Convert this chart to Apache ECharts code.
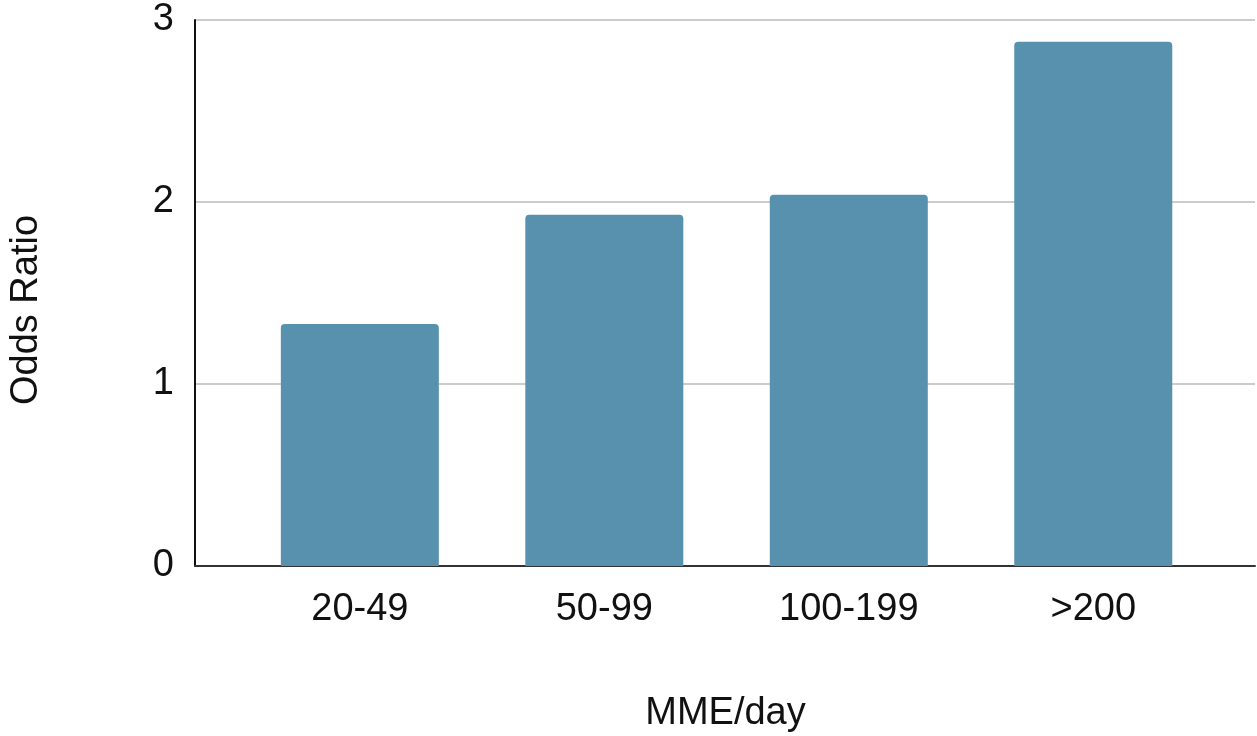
<!DOCTYPE html>
<html>
<head>
<meta charset="utf-8">
<style>
  html, body { margin: 0; padding: 0; background: #ffffff; }
  #chart { width: 1257px; height: 736px; }
</style>
<script src="https://cdn.jsdelivr.net/npm/echarts@6/dist/echarts.min.js"></script>
</head>
<body>
<div id="chart"></div>
<script>
// Dose bands (morphine milligram equivalents per day)
const categories = ['20-49', '50-99', '100-199', '>200'];
// Odds ratio for each band
const oddsRatios = [1.33, 1.93, 2.04, 2.88];
// Value axis range
const yMin = 0;
const yMax = 3;
const yStep = 1;

const FONT = '"Liberation Sans", Arial, sans-serif';
const TEXT = '#111111';
const chart = echarts.init(document.getElementById('chart'));

chart.setOption({
  backgroundColor: '#ffffff',
  animation: false,
  grid: [
    // frame: axis lines and horizontal gridlines
    { left: 195, right: 2, top: 20, bottom: 170 },
    // bars
    { left: 237.6, right: 41.5, top: 20, bottom: 170 }
  ],
  xAxis: [
    {
      gridIndex: 0, type: 'value', min: 0, max: 1,
      axisLine: { show: true, onZero: false, lineStyle: { color: '#333333', width: 2 } },
      axisTick: { show: false }, axisLabel: { show: false }, splitLine: { show: false }
    },
    {
      gridIndex: 1, type: 'category', data: categories,
      axisLine: { show: false }, axisTick: { show: false },
      axisLabel: { fontFamily: FONT, fontSize: 38, color: TEXT, margin: 25 }
    }
  ],
  yAxis: [
    {
      gridIndex: 0, type: 'value', min: yMin, max: yMax, interval: yStep,
      axisLine: { show: true, lineStyle: { color: '#111111', width: 2 } },
      axisTick: { show: false },
      axisLabel: { fontFamily: FONT, fontSize: 38, color: TEXT, margin: 21 },
      splitLine: { show: true, lineStyle: { color: '#cccccc', width: 2 } }
    },
    {
      gridIndex: 1, type: 'value', min: yMin, max: yMax, interval: yStep,
      show: false
    }
  ],
  series: [
    {
      type: 'bar',
      xAxisIndex: 1, yAxisIndex: 1,
      data: oddsRatios,
      barWidth: 158,
      itemStyle: { color: '#5891ad', borderRadius: [4, 4, 0, 0] },
      z: 1
    }
  ],
  graphic: [
    {
      type: 'text', x: 27, y: 310, rotation: Math.PI / 2,
      style: {
        text: 'Odds Ratio', font: '38px ' + FONT, fill: TEXT,
        align: 'center', verticalAlign: 'middle'
      }
    },
    {
      type: 'text', x: 725.5, y: 714,
      style: {
        text: 'MME/day', font: '38px ' + FONT, fill: TEXT,
        align: 'center', verticalAlign: 'middle'
      }
    }
  ]
});
</script>
</body>
</html>
